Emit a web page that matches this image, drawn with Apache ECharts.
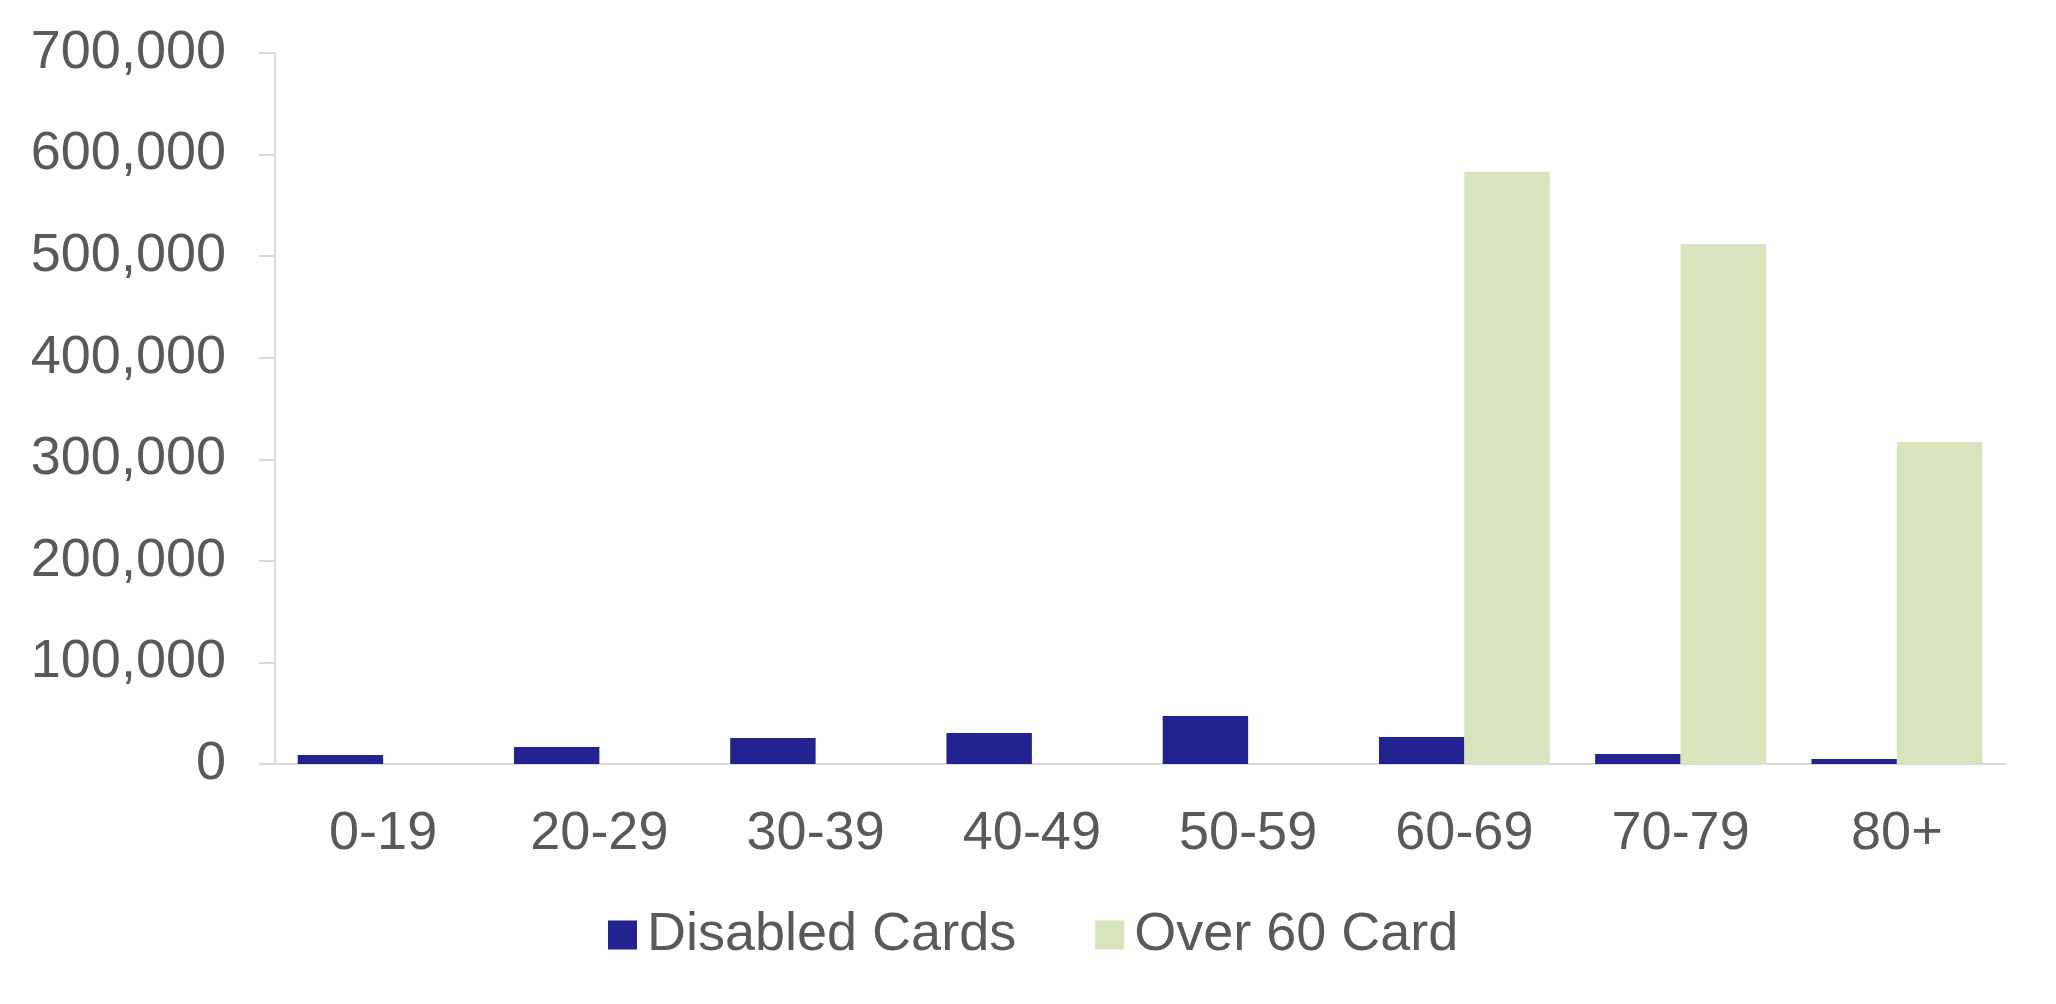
<!DOCTYPE html>
<html>
<head>
<meta charset="utf-8">
<title>Cards by age group</title>
<script src="https://cdn.jsdelivr.net/npm/echarts@6/dist/echarts.min.js"></script>
<style>
  html, body { margin: 0; padding: 0; background: #fff; }
  #main { width: 2056px; height: 1004px; }
</style>
</head>
<body>
<div id="main"></div>
<script>
var ageGroups = ['0-19', '20-29', '30-39', '40-49', '50-59', '60-69', '70-79', '80+'];
var disabledCards = [8900, 16700, 25600, 30500, 47200, 26600, 9800, 4900];
var over60Card = [0, 0, 0, 0, 0, 583000, 512000, 317000];
var seriesNames = ['Disabled Cards', 'Over 60 Card'];

var textColor = '#595959';
var lineColor = '#d9d9d9';
var font = '"Liberation Sans", Arial, sans-serif';

var myChart = echarts.init(document.getElementById('main'));
myChart.setOption({
  animation: false,
  textStyle: { fontFamily: font },
  grid: { left: 275, right: 51, top: 53, bottom: 240 },
  legend: {
    left: 603,
    top: 903,
    itemWidth: 29,
    itemHeight: 29,
    itemGap: 79,
    icon: 'rect',
    data: seriesNames,
    textStyle: { fontSize: 54, color: textColor, fontFamily: font, padding: [0, 0, 0, 5] }
  },
  xAxis: {
    type: 'category',
    data: ageGroups,
    axisLine: { lineStyle: { color: lineColor, width: 2 } },
    axisTick: { show: false },
    axisLabel: { fontSize: 54, color: textColor, margin: 43 }
  },
  yAxis: {
    type: 'value',
    min: 0,
    max: 700000,
    interval: 100000,
    splitLine: { show: false },
    axisLine: { show: true, lineStyle: { color: lineColor, width: 2 } },
    axisTick: { show: true, length: 16, lineStyle: { color: lineColor, width: 2 } },
    axisLabel: {
      fontSize: 54,
      color: textColor,
      margin: 49,
      formatter: function (v) { return v.toLocaleString('en-US'); }
    }
  },
  series: [{
    name: seriesNames[0],
    type: 'bar',
    data: disabledCards,
    barGap: '0%',
    barCategoryGap: '21%',
    itemStyle: { color: '#222290' }
  }, {
    name: seriesNames[1],
    type: 'bar',
    data: over60Card,
    barGap: '0%',
    barCategoryGap: '21%',
    itemStyle: { color: '#d7e4bd' }
  }]
});
</script>
</body>
</html>
